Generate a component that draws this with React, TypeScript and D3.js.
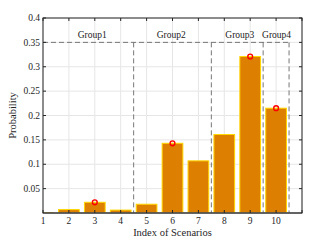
import * as d3 from 'd3';
import React from 'react';

// scenario probabilities
const scenarios = [1, 2, 3, 4, 5, 6, 7, 8, 9, 10];
const probabilities = [0.001, 0.007, 0.022, 0.006, 0.018, 0.143, 0.107, 0.161, 0.321, 0.215];
const highlighted = [3, 6, 9, 10];
const yTicks = [0.05, 0.1, 0.15, 0.2, 0.25, 0.3, 0.35, 0.4];
const groupNames = ['Group1', 'Group2', 'Group3', 'Group4'];
const groupLabelAt = [2.9, 5.95, 8.6, 10.02];
const groupStarts = [1, 4.5, 7.5, 9.5];
const groupEnds = [4.5, 7.5, 9.5, 10.5];
const groupTop = 0.35;

const margin = { left: 43, top: 18, right: 32, bottom: 27 };
const W = 334;
const H = 240;

const App = () => {
  const x = d3.scaleLinear().domain([1, 11]).range([margin.left, W - margin.right]);
  const y = d3.scaleLinear().domain([0, 0.4]).range([H - margin.bottom, margin.top]);
  const bw = x(1.8) - x(1);
  const font = '"Liberation Serif", "Times New Roman", serif';
  const x0 = x.range()[0], x1 = x.range()[1];
  const y0 = y.range()[0], y1 = y.range()[1];
  const tickLen = 3;

  return (
    <svg width={W} height={H} style={{ position: 'absolute', left: 0, top: 0, background: '#fff' }}>
      <defs>
        <clipPath id="plot">
          <rect x={x0} y={y1} width={x1 - x0} height={y0 - y1} />
        </clipPath>
      </defs>
      {/* grid */}
      <g stroke="#e6e6e6" strokeWidth={1}>
        {d3.range(1, 12).map(v => <line key={'gx' + v} x1={x(v)} x2={x(v)} y1={y0} y2={y1} />)}
        {yTicks.map(v => <line key={'gy' + v} x1={x0} x2={x1} y1={y(v)} y2={y(v)} />)}
      </g>
      {/* bars */}
      <g clipPath="url(#plot)">
        {probabilities.map((p, i) => (
          <rect key={i} x={x(scenarios[i]) - bw / 2} y={y(p)} width={bw} height={y(0) - y(p)}
            fill="#dd7f00" stroke="#ffd700" strokeWidth={1} />
        ))}
      </g>
      {/* baseline */}
      <line x1={x0} x2={x1} y1={y(0)} y2={y(0)} stroke="#808080" strokeWidth={1.5} />
      {/* group boxes */}
      <g stroke="#777" strokeWidth={1} strokeDasharray="5,3" fill="none">
        <line x1={x(groupStarts[0])} x2={x(groupEnds[groupEnds.length - 1])} y1={y(groupTop)} y2={y(groupTop)} />
        {groupEnds.map((g, i) => (
          <line key={'ge' + i} x1={x(g)} x2={x(g)} y1={y(groupTop)} y2={y(0)} />
        ))}
      </g>
      <g fontFamily={font} fontSize={9.5} fill="#222" textAnchor="middle">
        {groupNames.map((g, i) => (
          <text key={g} x={x(groupLabelAt[i])} y={y(0.365)} dy="0.35em">{g}</text>
        ))}
      </g>
      {/* max markers */}
      <g fill="none" stroke="#ff0000" strokeWidth={1.4}>
        {highlighted.map(s => (
          <circle key={'m' + s} cx={x(s)} cy={y(probabilities[s - 1])} r={2.4} />
        ))}
      </g>
      {/* axes box */}
      <rect x={x0} y={y1} width={x1 - x0} height={y0 - y1} fill="none" stroke="#262626" strokeWidth={1} />
      <g stroke="#262626" strokeWidth={1}>
        {d3.range(1, 12).map(v => (
          <g key={'tx' + v}>
            <line x1={x(v)} x2={x(v)} y1={y0} y2={y0 - tickLen} />
            <line x1={x(v)} x2={x(v)} y1={y1} y2={y1 + tickLen} />
          </g>
        ))}
        {yTicks.map(v => (
          <g key={'ty' + v}>
            <line x1={x0} x2={x0 + tickLen} y1={y(v)} y2={y(v)} />
            <line x1={x1} x2={x1 - tickLen} y1={y(v)} y2={y(v)} />
          </g>
        ))}
      </g>
      <g fontFamily={font} fontSize={9.5} fill="#262626">
        {scenarios.map(v => (
          <text key={'lx' + v} x={x(v)} y={y0 + 11} textAnchor="middle">{v}</text>
        ))}
        {yTicks.map(v => (
          <text key={'ly' + v} x={x0 - 3} y={y(v)} dy="0.33em" textAnchor="end">{d3.format('~g')(v)}</text>
        ))}
      </g>
      <text x={(x0 + x1) / 2} y={H - 4} textAnchor="middle" fontFamily={font} fontSize={10.5} fill="#262626">Index of Scenarios</text>
      <text transform={`translate(16,${(y0 + y1) / 2}) rotate(-90)`} textAnchor="middle" fontFamily={font} fontSize={10.5} fill="#262626">Probability</text>
    </svg>
  );
};

export default App;
